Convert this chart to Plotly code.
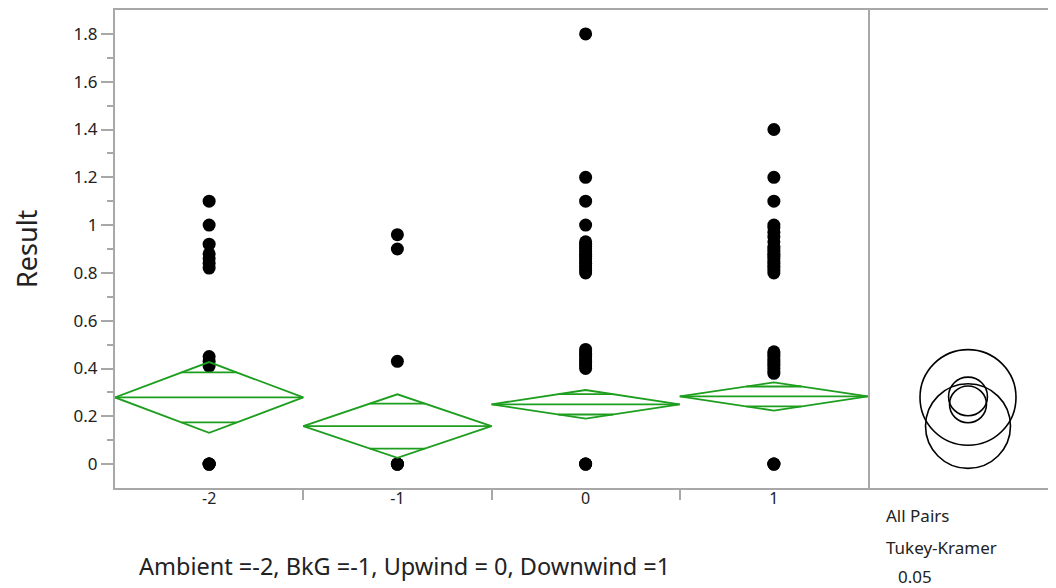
import plotly.graph_objects as go
import math

# ---- data ----
categories = ["-2", "-1", "0", "1"]
vals_m2 = [1.10, 1.00, 0.92, 0.88, 0.86, 0.84, 0.82, 0.45, 0.43, 0.41, 0.0, 0.0, 0.0, 0.0]
vals_m1 = [0.96, 0.90, 0.43, 0.0, 0.0, 0.0, 0.0]
vals_0 = [1.80, 1.20, 1.10, 1.00, 0.93, 0.92, 0.91, 0.90, 0.89, 0.88, 0.87, 0.86, 0.85,
          0.84, 0.83, 0.82, 0.81, 0.80, 0.48, 0.47, 0.46, 0.45, 0.44, 0.43, 0.42, 0.41,
          0.40, 0.0, 0.0, 0.0]
vals_1 = [1.40, 1.20, 1.10, 1.00, 0.99, 0.97, 0.95, 0.93, 0.91, 0.90, 0.89, 0.88, 0.87,
          0.86, 0.85, 0.84, 0.83, 0.82, 0.81, 0.80, 0.47, 0.46, 0.45, 0.44, 0.43, 0.42,
          0.41, 0.40, 0.39, 0.38, 0.0, 0.0, 0.0]
group_values = [vals_m2, vals_m1, vals_0, vals_1]

group_means = [0.279, 0.159, 0.250, 0.283]
ci_half = [0.148, 0.133, 0.060, 0.059]
circle_radius = [0.200, 0.177, 0.077, 0.081]

y_ticks = [0, 0.2, 0.4, 0.6, 0.8, 1.0, 1.2, 1.4, 1.6, 1.8]
y_tick_labels = ["0", "0.2", "0.4", "0.6", "0.8", "1", "1.2", "1.4", "1.6", "1.8"]
y_minor = [0.1, 0.3, 0.5, 0.7, 0.9, 1.1, 1.3, 1.5, 1.7]

GREEN = "rgb(30,158,30)"
AXIS = "#a8a8a8"
FONT = "Noto Sans"

fig = go.Figure()

# points
for i, vals in enumerate(group_values):
    fig.add_trace(go.Scatter(
        x=[i] * len(vals), y=vals, mode="markers",
        marker=dict(color="black", size=13, line=dict(width=0)),
        showlegend=False, hoverinfo="y"))

# means diamonds
k = 1 - 1 / math.sqrt(2)
for i, (m, h) in enumerate(zip(group_means, ci_half)):
    fig.add_trace(go.Scatter(
        x=[i - 0.5, i, i + 0.5, i, i - 0.5], y=[m, m + h, m, m - h, m],
        mode="lines", line=dict(color=GREEN, width=1.8), showlegend=False, hoverinfo="skip"))
    fig.add_trace(go.Scatter(
        x=[i - 0.5, i + 0.5], y=[m, m], mode="lines",
        line=dict(color=GREEN, width=1.8), showlegend=False, hoverinfo="skip"))
    d = h / math.sqrt(2)
    for yy in (m + d, m - d):
        fig.add_trace(go.Scatter(
            x=[i - 0.5 * k, i + 0.5 * k], y=[yy, yy], mode="lines",
            line=dict(color=GREEN, width=1.8), showlegend=False, hoverinfo="skip"))

# comparison circles
for m, r in zip(group_means, circle_radius):
    fig.add_shape(type="circle", xref="x2", yref="y",
                  x0=-r, x1=r, y0=m - r, y1=m + r,
                  line=dict(color="black", width=1.6))
# invisible trace to activate x2
fig.add_trace(go.Scatter(x=[0], y=[0.3], xaxis="x2", yaxis="y", mode="markers",
                         marker=dict(opacity=0), showlegend=False, hoverinfo="skip"))

OFF = 8  # page offset of the figure inside the window
W, H = 1056 - OFF, 588 - OFF
L = 115 - OFF
T = 8 - OFF
B = H - (488 - OFF)
R = 0
PW = W - L - R
PH = H - T - B
split = (868 - 115) / PW

fig.update_layout(
    width=W, height=H,
    margin=dict(l=L, r=R, t=T, b=B, pad=0),
    paper_bgcolor="white", plot_bgcolor="white",
    font=dict(family=FONT, size=16, color="#222"),
    xaxis=dict(domain=[0, split], range=[-0.5, 3.5],
               tickvals=[0, 1, 2, 3], ticktext=categories, ticks="",
               ticklabelstandoff=-5,
               showline=True, linecolor=AXIS, linewidth=1.5, mirror=True,
               showgrid=False, zeroline=False,
               tickfont=dict(size=16, color="#222"),
               minor=dict(tickvals=[0.5, 1.5, 2.5], ticks="outside", ticklen=10,
                          tickcolor=AXIS, tickwidth=1.5, showgrid=False)),
    xaxis2=dict(domain=[split, 1], range=[-100 / 240, (PW - 753 - 100) / 240],
                anchor="y", showticklabels=False, ticks="",
                showline=True, linecolor=AXIS, linewidth=1.5, mirror=True,
                showgrid=False, zeroline=False),
    yaxis=dict(range=[-0.1, 1.9], tickvals=y_ticks, ticktext=y_tick_labels,
               ticks="outside", ticklen=12, tickcolor=AXIS, tickwidth=1.5,
               showline=True, linecolor=AXIS, linewidth=2, mirror=True,
               showgrid=False, zeroline=False,
               tickfont=dict(size=17, color="#222"),
               minor=dict(tickvals=y_minor, ticks="outside", ticklen=6,
                          tickcolor=AXIS, tickwidth=1.5, showgrid=False)),
)


def px(xp):
    return (xp - OFF - L) / PW


def py(yp):
    return (H - B - (yp - OFF)) / PH


fig.add_annotation(text="Result", x=px(26), y=py(248), xref="paper", yref="paper",
                   textangle=-90, showarrow=False, font=dict(size=27, color="#222"),
                   xanchor="center", yanchor="middle")
fig.add_annotation(text="Ambient =-2, BkG =-1, Upwind = 0, Downwind =1",
                   x=px(137), y=py(566), xref="paper", yref="paper",
                   showarrow=False, font=dict(size=23.5, color="#222"),
                   xanchor="left", yanchor="middle")
for txt, xl, yc in [("All Pairs", 884, 516), ("Tukey-Kramer", 884, 548), ("0.05", 896, 577)]:
    fig.add_annotation(text=txt, x=px(xl), y=py(yc), xref="paper", yref="paper",
                       showarrow=False, font=dict(size=17, color="#222"),
                       xanchor="left", yanchor="middle")

fig.write_html("out.html")
